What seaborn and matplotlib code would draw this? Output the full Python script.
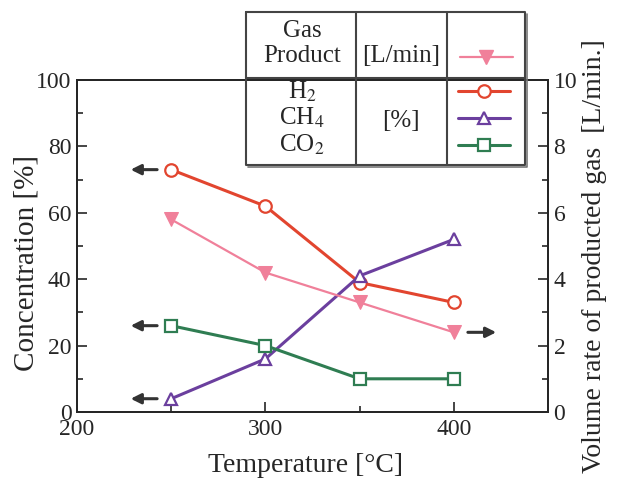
import numpy as np
import pandas as pd
import matplotlib.pyplot as plt
from matplotlib.lines import Line2D
import seaborn as sns

sns.set_style("ticks")
plt.rcParams['font.family'] = ['Liberation Serif', 'DejaVu Serif']
plt.rcParams['mathtext.fontset'] = 'stix'

temperature = [250, 300, 350, 400]
h2 = [73, 62, 39, 33]
ch4 = [4, 16, 41, 52]
co2 = [26, 20, 10, 10]
gas_product = [5.8, 4.2, 3.3, 2.4]

colors = {'H2': '#e2452f', 'CH4': '#6b3f9e', 'CO2': '#2f7d52', 'gas': '#f0809a'}
markers = {'H2': 'o', 'CH4': '^', 'CO2': 's'}

conc = pd.DataFrame({'Temperature': temperature * 3,
                     'Concentration': h2 + ch4 + co2,
                     'Gas': ['H2'] * 4 + ['CH4'] * 4 + ['CO2'] * 4})
flow = pd.DataFrame({'Temperature': temperature, 'Rate': gas_product})

W, H = 619, 478
fig = plt.figure(figsize=(W / 100, H / 100), dpi=100)
ax = fig.add_axes([77 / W, 1 - 412 / H, (548 - 77) / W, (412 - 80) / H])
ax2 = ax.twinx()

for gas in ['H2', 'CH4', 'CO2']:
    sub = conc[conc['Gas'] == gas]
    sns.lineplot(data=sub, x='Temperature', y='Concentration', ax=ax,
                 color=colors[gas], marker=markers[gas], markersize=9,
                 markerfacecolor='white', markeredgecolor=colors[gas],
                 markeredgewidth=1.6, linewidth=2.2)

sns.lineplot(data=flow, x='Temperature', y='Rate', ax=ax2, color=colors['gas'],
             marker='v', markersize=10, markerfacecolor=colors['gas'],
             markeredgecolor=colors['gas'], linewidth=1.6)

ax.set_xlim(200, 450)
ax.set_ylim(0, 100)
ax2.set_ylim(0, 10)
ax.set_xticks([200, 300, 400])
ax.set_xticks([250, 350], minor=True)
ax.set_yticks(np.arange(0, 101, 20))
ax.set_yticks(np.arange(10, 100, 20), minor=True)
ax2.set_yticks(np.arange(0, 11, 2))
ax2.set_yticks(np.arange(1, 10, 2), minor=True)
for a in (ax, ax2):
    a.tick_params(direction='in', labelsize=17, length=7, width=1.2, pad=4)
    a.tick_params(which='minor', direction='in', length=4, width=1.2)
    for s in a.spines.values():
        s.set_linewidth(1.4)
        s.set_visible(True)
ax.tick_params(axis='x', pad=5)
ax.set_xlabel('Temperature [°C]', fontsize=20)
ax.set_ylabel('Concentration [%]', fontsize=21)
ax2.set_ylabel('Volume rate of producted gas  [L/min.]', fontsize=20)
ax.xaxis.set_label_coords(0.486, -0.125)
ax.yaxis.set_label_coords(-0.08, 0.45)
ax2.yaxis.set_label_coords(1.072, 0.47)

# arrows pointing to the axes
arrow = dict(arrowstyle='-|>,head_length=0.6,head_width=0.3', color='#333333', lw=2.2)
for yv in [h2[0], co2[0], ch4[0]]:
    ax.annotate('', xy=(227, yv), xytext=(244, yv), arrowprops=arrow)
ax2.annotate('', xy=(424, 2.4), xytext=(406, 2.4), arrowprops=arrow)

# legend table
def fx(px):
    return px / W

def fy(py):
    return 1 - py / H

lk = dict(color='#444444', lw=1.5, transform=fig.transFigure)
x0, x1, x2, x3 = 246, 356, 447, 525
y0, y1, y2 = 12, 78, 165
fig.add_artist(Line2D([fx(x0), fx(x3), fx(x3), fx(x0), fx(x0)],
                      [fy(y0), fy(y0), fy(y2), fy(y2), fy(y0)], **lk))
fig.add_artist(Line2D([fx(x0), fx(x3)], [fy(y1), fy(y1)], **lk))
for xv in (x1, x2):
    fig.add_artist(Line2D([fx(xv), fx(xv)], [fy(y0), fy(y2)], **lk))
fig.add_artist(Line2D([fx(x0 + 2), fx(x3 + 2), fx(x3 + 2)],
                      [fy(y2 + 2), fy(y2 + 2), fy(y0 + 2)], color='#777777', lw=1.2,
                      transform=fig.transFigure))

tk = dict(fontsize=18, ha='center', va='center', transform=fig.transFigure)
fig.text(fx(302), fy(31), 'Gas', **tk)
fig.text(fx(302), fy(56), 'Product', **tk)
fig.text(fx(401), fy(56), '[L/min]', **tk)
fig.text(fx(302), fy(92), 'H$_2$', **tk)
fig.text(fx(302), fy(118), 'CH$_4$', **tk)
fig.text(fx(302), fy(145), 'CO$_2$', **tk)
fig.text(fx(401), fy(121), '[%]', **tk)

fig.add_artist(Line2D([fx(460), fx(486), fx(513)], [fy(57)] * 3, color=colors['gas'],
                      lw=1.6, marker='v', markersize=10, markevery=[1],
                      transform=fig.transFigure))
for gas, py in [('H2', 91), ('CH4', 118), ('CO2', 145)]:
    fig.add_artist(Line2D([fx(458), fx(484), fx(510)], [fy(py)] * 3, color=colors[gas],
                          lw=2.2, marker=markers[gas], markersize=9, markevery=[1],
                          markerfacecolor='white', markeredgewidth=1.6,
                          transform=fig.transFigure))

fig.savefig('out.png', dpi=100)
